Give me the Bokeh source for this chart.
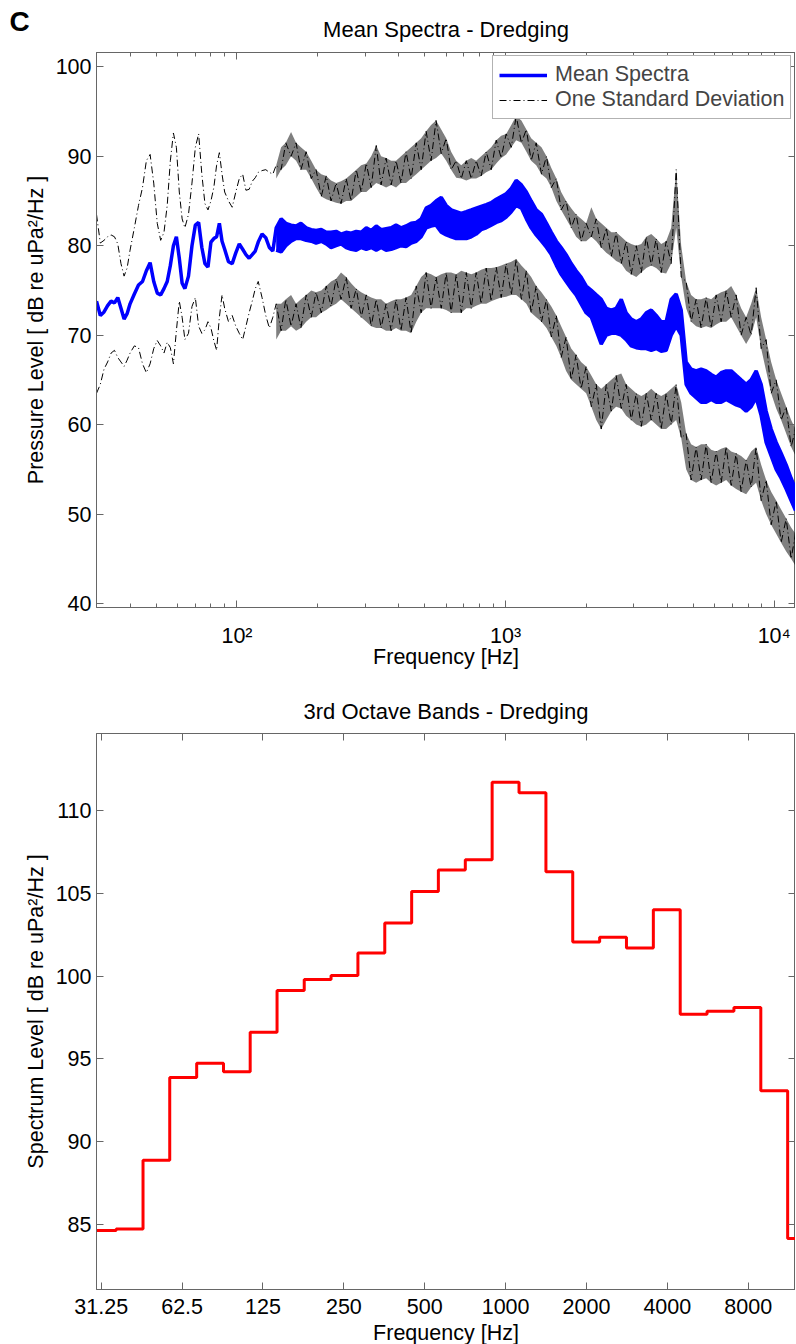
from bokeh.plotting import figure
from bokeh.models import (Range1d, FixedTicker, LogAxis, LinearAxis,
                          Legend, LegendItem, CustomJSTickFormatter)
from bokeh.layouts import column
from bokeh.embed import file_html
from bokeh.resources import INLINE

# ---------------- data: mean spectra (top panel) ----------------
# smooth low-frequency part (single trace values)
freq_low = [30, 31, 32, 33, 34, 35, 36, 37, 38, 39, 40,
            41.5, 43, 44.5, 46, 47.5, 49, 50.5, 52, 53.5, 55, 56.5, 58, 59.5, 61, 62.5,
            64, 66, 68, 70, 72, 74, 76, 78, 80, 82, 84, 86, 88, 90,
            93, 96, 99, 102, 105, 108, 111, 114, 117, 120,
            124, 128, 132, 136]
mean_low = [73.8, 72.2, 72.6, 73.3, 73.8, 73.6, 74.2, 73.0, 71.8, 72.4, 73.5,
            74.6, 75.6, 76.0, 77.2, 78.1, 76.0, 74.7, 74.5, 75.2, 76.0, 77.8, 80.0, 81.0, 78.6, 75.8,
            75.2, 76.6, 80.0, 82.3, 82.6, 79.8, 78.0, 77.6, 80.4, 80.8, 81.0, 82.5, 80.5, 79.6,
            78.2, 78.0, 79.2, 80.2, 79.6, 79.0, 78.6, 79.0, 79.4, 80.4,
            81.3, 80.9, 79.8, 79.4]
std_up_low = [83.5, 80.3, 80.6, 81.0, 81.2, 81.0, 80.2, 78.0, 76.6, 77.5, 79.5,
              82.0, 84.5, 86.5, 89.5, 90.2, 87.0, 82.5, 80.6, 81.5, 84.5, 89.5, 92.6, 91.0, 86.0, 83.0,
              82.0, 83.5, 87.0, 91.0, 92.5, 88.0, 84.7, 84.0, 85.0, 86.5, 89.0, 90.4, 88.0, 86.0,
              85.0, 84.3, 86.0, 87.5, 88.0, 86.2, 86.3, 87.2, 87.6, 88.2,
              88.4, 88.5, 88.2, 88.0]
std_dn_low = [63.5, 64.5, 66.2, 67.0, 68.0, 68.3, 67.5, 67.0, 66.5, 67.2, 68.0,
              68.8, 68.6, 66.8, 65.8, 66.8, 68.5, 69.4, 68.8, 68.0, 69.2, 68.6, 66.8, 70.5, 73.8, 72.0,
              69.5, 70.2, 73.2, 74.2, 71.0, 70.2, 70.6, 71.5, 70.8, 69.4, 68.3, 72.0, 74.5, 73.0,
              71.5, 72.2, 71.0, 70.2, 69.5, 71.0, 72.5, 73.8, 75.2, 76.0,
              74.2, 72.2, 70.8, 72.0]

# noisy part: upper / lower edge of each dense trace
freq_high = [140, 146, 152, 159, 166, 173, 181, 189, 197, 206,
             215, 224, 234, 244, 255, 266, 278, 290, 303, 316,
             330, 344, 359, 375, 391, 408, 426, 445, 465, 485,
             506, 528, 551, 576, 601, 627, 655, 684, 714, 745,
             777, 811, 847, 884, 923, 963, 1005, 1050, 1095, 1145,
             1195, 1245, 1300, 1360, 1420, 1480, 1545, 1610, 1680, 1755,
             1830, 1910, 1995, 2085, 2175, 2270, 2370, 2475, 2580, 2695,
             2810, 2935, 3065, 3200, 3340, 3485, 3635, 3795, 3960, 4135,
             4315, 4505, 4700, 4905, 5120, 5345, 5580, 5825, 6080, 6345,
             6625, 6915, 7215, 7530, 7860, 8205, 8565, 8940, 9330, 9740,
             10170, 10610, 11080, 11560, 12000]
mean_hi = [82.0, 83.0, 82.5, 82.3, 82.2, 82.5, 82.0, 81.8, 81.7, 81.8,
           81.5, 81.5, 81.6, 81.3, 81.5, 81.4, 81.6, 81.5, 82.0, 81.7,
           82.2, 81.8, 81.9, 82.0, 82.3, 82.0, 82.2, 82.5, 82.6, 83.0,
           84.2, 84.5, 85.0, 85.4, 84.5, 84.0, 83.8, 83.6, 83.8, 84.0,
           84.2, 84.4, 84.6, 84.8, 85.2, 85.5, 85.8, 86.4, 87.3, 86.8,
           86.0, 85.0, 84.0, 83.5, 82.5, 81.5, 80.5, 79.8, 79.0, 78.0,
           77.2, 76.5, 75.5, 75.0, 74.5, 74.0, 73.0, 72.8, 73.0, 74.0,
           72.5, 71.8, 71.5, 71.8, 72.5, 72.8, 72.2, 71.5, 71.5, 74.0,
           74.6, 72.8, 67.0, 66.2, 66.0, 66.2, 66.0, 65.6, 65.3, 65.8,
           66.0, 66.0, 65.5, 65.0, 64.5, 65.0, 66.0, 64.5, 61.5, 59.5,
           58.0, 56.8, 55.5, 54.0, 52.8]
mean_lo = [79.5, 79.3, 80.0, 80.5, 80.8, 80.8, 80.6, 80.5, 80.3, 80.5,
           80.2, 79.8, 80.0, 80.2, 79.8, 79.6, 79.5, 79.8, 79.6, 79.8,
           79.5, 79.8, 79.5, 79.6, 79.8, 80.0, 79.9, 80.3, 80.5, 81.0,
           82.0, 82.2, 82.3, 81.5, 81.2, 81.0, 80.8, 80.8, 80.8, 81.0,
           81.3, 81.8, 82.0, 82.3, 82.6, 82.8, 83.2, 83.8, 84.5, 84.2,
           83.0, 82.0, 81.2, 80.5, 79.8, 79.0, 77.8, 76.8, 76.0, 75.2,
           74.5, 73.5, 72.5, 72.0, 70.5, 69.0, 70.0, 70.2, 70.2, 70.0,
           69.5, 68.8, 68.6, 68.5, 68.5, 68.3, 68.5, 68.2, 68.3, 70.0,
           71.0, 70.0, 64.5, 63.5, 63.0, 62.5, 62.5, 62.8, 62.5, 62.5,
           62.8, 62.5, 62.2, 62.0, 61.5, 62.0, 63.0, 61.0, 58.0, 56.5,
           55.0, 54.0, 52.8, 51.5, 50.4]
up_hi = [89.0, 91.0, 91.5, 92.7, 91.5, 91.0, 90.5, 89.5, 88.5, 88.0,
         87.8, 87.3, 87.0, 87.2, 87.5, 88.0, 88.5, 89.0, 89.2, 90.0,
         91.2, 90.0, 89.8, 89.5, 89.5, 90.0, 90.5, 91.0, 91.5, 92.0,
         92.8, 93.5, 94.0, 93.0, 92.0, 90.5, 89.5, 89.0, 89.5, 89.8,
         89.5, 90.0, 90.5, 91.0, 91.8, 92.3, 92.5, 93.5, 94.5, 94.0,
         93.0, 92.0, 91.5, 91.0, 90.0, 88.7, 87.5, 86.0, 85.0, 84.2,
         83.5, 83.0, 82.5, 84.3, 83.0, 82.5, 82.0, 81.5, 81.5, 81.0,
         80.5, 80.2, 80.0, 80.2, 81.0, 81.3, 80.8, 80.2, 80.5, 82.0,
         88.5, 80.0, 76.0, 74.5, 74.0, 74.0, 74.2, 74.0, 74.5, 74.8,
         75.0, 75.5, 74.5, 73.0, 72.0, 73.5, 75.3, 72.0, 69.5, 67.0,
         65.0, 63.5, 62.0, 60.5, 59.5]
up_lo = [87.5, 88.5, 89.0, 90.0, 89.5, 88.5, 88.5, 87.5, 86.5, 85.5,
         85.2, 85.0, 84.8, 84.7, 85.0, 85.0, 85.5, 86.0, 86.0, 86.5,
         87.0, 86.8, 86.5, 86.8, 86.5, 87.0, 87.0, 87.5, 88.0, 88.5,
         89.0, 89.5, 89.8, 90.3, 89.5, 88.5, 87.6, 87.5, 87.3, 87.5,
         87.5, 87.8, 88.2, 88.5, 89.2, 89.8, 90.2, 91.0, 91.8, 91.5,
         90.5, 89.5, 89.0, 88.0, 87.5, 86.5, 85.0, 84.0, 83.0, 82.0,
         81.0, 80.5, 80.5, 81.0, 80.5, 79.8, 79.2, 78.8, 78.3, 78.0,
         77.2, 76.8, 76.5, 77.0, 77.5, 77.8, 77.5, 77.0, 76.9, 78.0,
         82.0, 76.5, 73.0, 71.5, 71.0, 70.8, 71.0, 70.8, 71.2, 71.5,
         71.5, 72.0, 71.0, 70.0, 69.0, 70.0, 72.0, 68.5, 66.0, 63.5,
         61.8, 60.5, 59.0, 57.5, 56.5]
dn_hi = [73.5, 73.5, 74.0, 74.5, 73.5, 74.0, 74.5, 75.0, 74.8, 75.0,
         75.5, 76.0, 76.3, 77.0, 76.5, 75.8, 75.2, 74.8, 74.5, 74.2,
         74.0, 74.0, 73.5, 73.8, 74.0, 74.0, 74.2, 74.5, 75.5, 76.5,
         77.0, 76.8, 76.5, 76.8, 77.0, 77.0, 76.8, 77.2, 77.0, 76.8,
         77.0, 77.3, 77.5, 77.5, 77.6, 77.8, 78.0, 78.2, 78.5, 77.8,
         77.2, 76.5, 75.5, 74.8, 74.0, 73.2, 72.2, 71.0, 69.8, 68.5,
         67.8, 67.0, 66.5, 65.5, 64.5, 64.0, 64.5, 65.0, 65.5, 65.7,
         64.5, 64.0, 63.5, 63.2, 63.5, 64.0, 63.5, 63.2, 63.5, 64.0,
         64.5, 62.5, 59.0, 57.8, 57.5, 57.8, 57.8, 57.2, 57.0, 57.3,
         57.5, 57.0, 56.8, 56.5, 56.0, 57.0, 57.5, 55.5, 53.8, 52.5,
         51.5, 50.5, 49.5, 48.5, 47.8]
dn_lo = [69.5, 70.5, 70.5, 71.0, 70.5, 70.8, 71.5, 72.0, 72.0, 72.5,
         72.8, 73.2, 73.5, 74.0, 73.5, 73.0, 72.5, 72.0, 71.5, 71.0,
         70.8, 70.8, 70.5, 70.5, 70.8, 70.5, 70.5, 70.2, 71.5, 72.5,
         73.0, 73.0, 73.0, 73.0, 72.8, 72.5, 72.5, 72.5, 73.0, 73.0,
         73.3, 73.5, 73.5, 73.8, 74.0, 74.2, 74.3, 74.5, 74.5, 74.0,
         73.5, 72.5, 72.0, 71.5, 70.8, 69.8, 68.8, 67.5, 66.0, 65.0,
         64.5, 64.0, 63.5, 62.0, 60.5, 59.5, 60.5, 61.5, 62.0, 61.8,
         61.0, 60.5, 60.0, 59.8, 60.0, 60.5, 60.0, 59.5, 59.5, 60.0,
         60.5, 58.5, 55.0, 53.8, 53.5, 53.8, 54.0, 53.5, 53.2, 53.5,
         53.8, 53.2, 52.8, 52.5, 52.2, 53.0, 53.5, 51.5, 50.0, 48.8,
         47.8, 46.8, 45.8, 45.0, 44.2]

# ---------------- data: third-octave bands (bottom panel) ----------------
band_edges = [28.2, 35.5, 44.7, 56.2, 70.8, 89.1, 112, 141, 178, 224, 282, 355, 447, 562,
              708, 891, 1122, 1413, 1778, 2239, 2818, 3548, 4467, 5623, 7079, 8913, 11220, 14125]
band_levels = [84.64, 84.72, 88.87, 93.88, 94.73, 94.22, 96.6, 99.13, 99.8, 100.03, 101.4,
               103.2, 105.1, 106.4, 107.03, 111.7, 111.07, 106.3, 102.05, 102.35, 101.7,
               104.0, 97.7, 97.88, 98.1, 93.07, 84.15]
octave_ticks = [31.25, 62.5, 125, 250, 500, 1000, 2000, 4000, 8000]
decade_ticks = [100, 1000, 10000]
top_y_ticks = [40, 50, 60, 70, 80, 90, 100]
bot_y_ticks = [85, 90, 95, 100, 105, 110]

# ---------------- styling helpers ----------------
FONT = "Liberation Sans"
TXT = "21.5px"
AX = "#666666"


def style_axis(ax, labels=True):
    ax.axis_line_color = AX
    ax.major_tick_line_color = AX
    ax.minor_tick_line_color = AX
    ax.major_tick_in = 7
    ax.major_tick_out = 0
    ax.minor_tick_in = 4
    ax.minor_tick_out = 0
    ax.major_label_text_font = FONT
    ax.major_label_text_color = "black"
    ax.axis_label_text_font = FONT
    ax.axis_label_text_font_style = "normal"
    ax.axis_label_text_font_size = TXT
    ax.axis_label_text_color = "black"
    if labels:
        ax.major_label_text_font_size = TXT
        ax.major_label_standoff = 5
    else:
        ax.major_label_text_font_size = "1px"
        ax.major_label_text_alpha = 0
        ax.major_label_standoff = 0


def zigzag(hi, lo):
    return [h if i % 2 == 0 else l for i, (h, l) in enumerate(zip(hi, lo))]


minor_decade = [m * 10 ** e for e in (1, 2, 3) for m in range(2, 10)]
sup_fmt = CustomJSTickFormatter(code="""
const sup = {"0":"\u2070","1":"\u00b9","2":"\u00b2","3":"\u00b3","4":"\u2074"};
const e = Math.round(Math.log10(tick));
return "10" + String(e).split("").map(c => sup[c]).join("");
""")
plain_fmt = CustomJSTickFormatter(code="return tick.toString();")
blank_fmt = CustomJSTickFormatter(code="return '';")

# ---------------- top panel ----------------
p1 = figure(frame_width=699, frame_height=555, x_axis_type="log",
            x_range=Range1d(30, 12000), y_range=Range1d(39.55, 101.6),
            output_backend="svg", toolbar_location=None,
            min_border_left=96, min_border_right=0, min_border_top=52, min_border_bottom=73)
p1.grid.visible = False
p1.outline_line_color = AX
# panel letter as the figure title, pushed to the left edge of the figure
p1.title.text = "C"
p1.title.align = "left"
p1.title.vertical_align = "bottom"
p1.title.offset = -87
p1.title.standoff = -46
p1.title.text_font = FONT
p1.title.text_font_size = "28px"
p1.title.text_font_style = "bold"
p1.title.text_color = "black"

xt1 = FixedTicker(ticks=decade_ticks, minor_ticks=minor_decade)
yt1 = FixedTicker(ticks=top_y_ticks, minor_ticks=[])
p1.xaxis.ticker = xt1
p1.xaxis.formatter = sup_fmt
p1.xaxis.axis_label = "Frequency [Hz]"
p1.yaxis.ticker = yt1
p1.yaxis.axis_label = "Pressure Level [ dB re uPa²/Hz ]"
for a in p1.xaxis + p1.yaxis:
    style_axis(a)
p1.xaxis.major_label_standoff = 16
p1.xaxis.axis_label_standoff = -6
# top axis carries the panel heading as its label
ta1 = LogAxis(ticker=xt1, formatter=blank_fmt)
style_axis(ta1, labels=False)
ta1.axis_label = "Mean Spectra - Dredging"
ta1.axis_label_text_font_size = "22px"
ta1.axis_label_standoff = 11
p1.add_layout(ta1, "above")
ra1 = LinearAxis(ticker=yt1, formatter=blank_fmt)
style_axis(ra1, labels=False)
p1.add_layout(ra1, "right")

DASH = "7 3 1 3"
p1.varea(x=freq_high, y1=up_lo, y2=up_hi, fill_color="black", fill_alpha=0.5)
p1.varea(x=freq_high, y1=dn_lo, y2=dn_hi, fill_color="black", fill_alpha=0.5)
r_std = p1.line(freq_low + freq_high, std_up_low + zigzag(up_hi, up_lo),
                line_color="black", line_width=1, line_dash=DASH)
p1.line(freq_low + freq_high, std_dn_low + zigzag(dn_hi, dn_lo),
        line_color="black", line_width=1, line_dash=DASH)

p1.varea(x=freq_high, y1=mean_lo, y2=mean_hi, fill_color="#0000ff")
r_mean = p1.line(freq_low + freq_high, mean_low + mean_hi, line_color="#0000ff", line_width=3.5)
p1.line(freq_high, mean_lo, line_color="#0000ff", line_width=3.5)

legend = Legend(items=[LegendItem(label="Mean Spectra", renderers=[r_mean]),
                       LegendItem(label="One Standard Deviation", renderers=[r_std])],
                location=(396, 488))
legend.label_text_font = FONT
legend.label_text_font_size = TXT
legend.glyph_width = 48
legend.glyph_height = 20
legend.label_standoff = 8
legend.padding = 6
legend.spacing = 0
legend.margin = 0
legend.border_line_color = AX
legend.background_fill_alpha = 1
p1.add_layout(legend)

# ---------------- bottom panel ----------------
p2 = figure(frame_width=699, frame_height=556, x_axis_type="log",
            x_range=Range1d(30, 12000), y_range=Range1d(81.07, 114.65),
            output_backend="svg", toolbar_location=None,
            min_border_left=96, min_border_right=0, min_border_top=53, min_border_bottom=54)
p2.grid.visible = False
p2.outline_line_color = AX
p2.title.text = "3rd Octave Bands - Dredging"
p2.title.align = "center"
p2.title.standoff = 20
p2.title.text_font = FONT
p2.title.text_font_size = "22px"
p2.title.text_font_style = "normal"
p2.title.text_color = "black"

xt2 = FixedTicker(ticks=octave_ticks, minor_ticks=[])
yt2 = FixedTicker(ticks=bot_y_ticks, minor_ticks=[])
p2.xaxis.ticker = xt2
p2.xaxis.formatter = plain_fmt
p2.xaxis.axis_label = "Frequency [Hz]"
p2.yaxis.ticker = yt2
p2.yaxis.axis_label = "Spectrum Level [ dB re uPa²/Hz ]"
for a in p2.xaxis + p2.yaxis:
    style_axis(a)
p2.xaxis.major_label_standoff = 9
p2.xaxis.axis_label_standoff = 4
ta2 = LogAxis(ticker=xt2, formatter=blank_fmt)
style_axis(ta2, labels=False)
p2.add_layout(ta2, "above")
ra2 = LinearAxis(ticker=yt2, formatter=blank_fmt)
style_axis(ra2, labels=False)
p2.add_layout(ra2, "right")

p2.step(x=band_edges, y=band_levels + [band_levels[-1]], mode="after",
        line_color="#ff0000", line_width=3)

layout = column(p1, p2, spacing=0)
open("out.html", "w").write(file_html(layout, INLINE))
